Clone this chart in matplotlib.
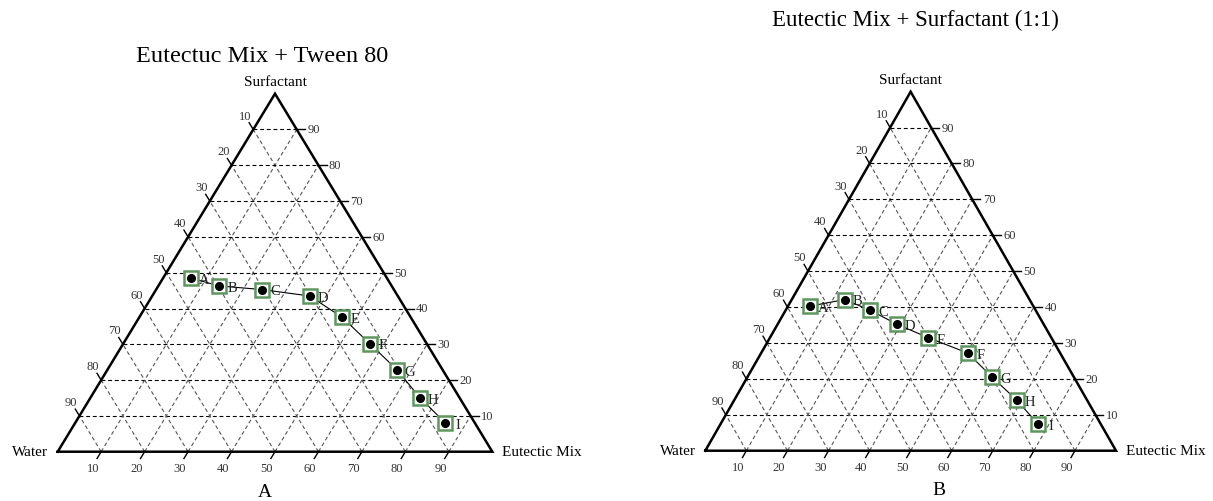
## plot.py
# ternary phase diagrams : eutectic mix / surfactant / water

import numpy as np
import matplotlib
matplotlib.use('Agg')
import matplotlib.pyplot as plt

plt.rcParams['font.family'] = ['Liberation Serif', 'DejaVu Serif']

## data (percent)
point_labels = ['A', 'B', 'C', 'D', 'E', 'F', 'G', 'H', 'I']

# chart A : Eutectic mix + Tween 80
eutectic_a   = [6.4, 14.0, 24.3, 36.2, 46.6, 56.7, 66.6, 75.9, 85.1]
surfactant_a = [48.5, 46.3, 45.3, 43.5, 37.6, 30.2, 22.9, 15.0, 8.1]

# chart B : Eutectic mix + surfactant (1:1)
eutectic_b   = [5.4, 12.9, 20.4, 29.1, 38.5, 50.3, 59.6, 68.9, 77.2]
surfactant_b = [40.3, 42.1, 39.2, 35.2, 31.5, 27.2, 20.5, 14.0, 7.5]

grid_vals = [10, 20, 30, 40, 50, 60, 70, 80, 90]

H = np.sqrt(3) / 2
W = 1213.0
HT = 502.0


def tern(e, s):
	# eutectic, surfactant (fractions) -> cartesian
	e = np.asarray(e, dtype=float)
	s = np.asarray(s, dtype=float)
	return e + s / 2.0, s * H


def draw_ternary(ax, eut, surf):
	ax.set_xlim(0, 1)
	ax.set_ylim(0, H)
	ax.axis('off')

	dash = (0, (3.5, 2.5))
	# grid
	for v in grid_vals:
		f = v / 100.0
		# constant surfactant (horizontal)
		x, y = tern([0, 1 - f], [f, f])
		ax.plot(x, y, color='black', lw=0.8, ls=dash, clip_on=False)
		# constant eutectic
		x, y = tern([f, f], [0, 1 - f])
		ax.plot(x, y, color='#555555', lw=0.8, ls=dash, clip_on=False)
		# constant water
		x, y = tern([1 - f, 0], [0, 1 - f])
		ax.plot(x, y, color='#555555', lw=0.8, ls=dash, clip_on=False)

	# frame
	x, y = tern([0, 1, 0, 0], [0, 0, 1, 0])
	ax.plot(x, y, color='black', lw=1.8, clip_on=False, solid_joinstyle='miter')

	tl = 0.019
	for v in grid_vals:
		f = v / 100.0
		# surfactant ticks, right edge
		x, y = tern([1 - f], [f])
		ax.plot([x[0], x[0] + tl], [y[0], y[0]], color='black', lw=1.0, clip_on=False)
		ax.annotate(str(v), (x[0], y[0]), xytext=(7.5, 0), textcoords='offset points',
		            ha='left', va='center', fontsize=9, color='#333333')
		# water ticks, left edge (water = 1 - surfactant there)
		x, y = tern([0], [1 - f])
		ax.plot([x[0], x[0] - 0.5 * tl], [y[0], y[0] + H * tl], color='black', lw=1.0, clip_on=False)
		ax.annotate(str(v), (x[0], y[0]), xytext=(-6, 10), textcoords='offset points',
		            ha='center', va='center', fontsize=9, color='#333333')
		# eutectic ticks, bottom edge
		x, y = tern([f], [0])
		ax.plot([x[0], x[0] - 0.5 * tl], [y[0], y[0] - H * tl], color='black', lw=1.0, clip_on=False)
		ax.annotate(str(v), (x[0], y[0]), xytext=(-6, -12), textcoords='offset points',
		            ha='center', va='center', fontsize=9, color='#333333')

	# vertex names
	ax.annotate('Surfactant', (0.5, H), xytext=(0, 9), textcoords='offset points',
	            ha='center', va='center', fontsize=11)
	ax.annotate('Water', (0, 0), xytext=(-7, 0), textcoords='offset points',
	            ha='right', va='center', fontsize=11)
	ax.annotate('Eutectic Mix', (1, 0), xytext=(7, 0), textcoords='offset points',
	            ha='left', va='center', fontsize=11)

	# data
	px, py = tern(np.array(eut) / 100.0, np.array(surf) / 100.0)
	ax.plot(px, py, color='black', lw=0.8, zorder=4, clip_on=False)
	ax.plot(px, py, ls='none', marker='s', markersize=9.5, mfc='white', mec='#5e975e',
	        mew=1.8, zorder=5, clip_on=False)
	ax.plot(px, py, ls='none', marker='o', markersize=5.5, color='black', zorder=6, clip_on=False)
	for lab, xx, yy in zip(point_labels, px, py):
		ax.annotate(lab, (xx, yy), xytext=(9.5, -1), textcoords='offset points',
		            ha='center', va='center', fontsize=10.5, color='#222222', zorder=7)


fig = plt.figure(figsize=(12.13, 5.02), dpi=100)

# chart A
x0, x1, yb, h = 57.7, 492.3, 452.7, 358.0
ax1 = fig.add_axes([x0 / W, (HT - yb) / HT, (x1 - x0) / W, h / HT])
draw_ternary(ax1, eutectic_a, surfactant_a)

# chart B
x0, x1, yb, h = 705.3, 1116.0, 451.7, 359.0
ax2 = fig.add_axes([x0 / W, (HT - yb) / HT, (x1 - x0) / W, h / HT])
draw_ternary(ax2, eutectic_b, surfactant_b)

fig.text(261.7 / W, 1 - 56.7 / HT, 'Eutectuc Mix + Tween 80', ha='center', va='center', fontsize=17.5)
fig.text(915 / W, 1 - 20.7 / HT, 'Eutectic Mix + Surfactant (1:1)', ha='center', va='center', fontsize=16.5)
fig.text(265 / W, 1 - 493 / HT, 'A', ha='center', va='center', fontsize=14)
fig.text(939 / W, 1 - 491 / HT, 'B', ha='center', va='center', fontsize=14)

fig.savefig('out.png', dpi=100)
